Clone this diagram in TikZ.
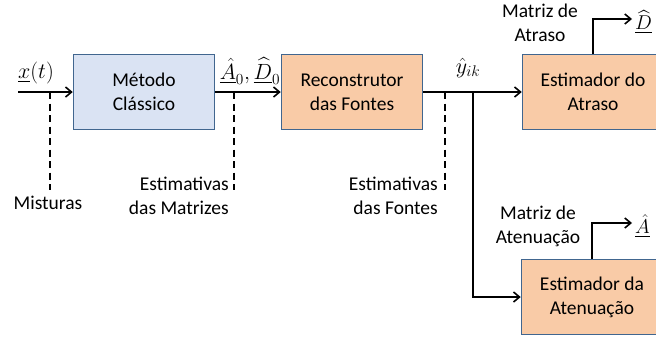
\documentclass[tikz,border=0pt]{standalone}
\usepackage{fix-cm}
\usepackage{amsmath}
\usepackage{fontspec}
\setmainfont{Carlito}
\usepackage{tikz}
\usetikzlibrary{positioning, arrows.meta}

\definecolor{bluefill}{HTML}{DAE3F3}
\definecolor{peachfill}{HTML}{F9CBA7}
\definecolor{boxline}{HTML}{41668F}

\begin{document}
\begin{tikzpicture}[
  x=1pt, y=-1pt,
  font=\fontsize{19.5}{24}\selectfont,
  block/.style={draw=boxline, line width=1.5pt, rectangle, align=center,
    minimum width=141pt, minimum height=75pt, inner sep=2pt},
  note/.style={align=center, inner sep=0pt},
  sig/.style={inner sep=0pt, font=\fontsize{22}{26}\selectfont},
  arr/.style={-{Straight Barb[length=6pt, width=10pt]}, line width=1.6pt},
  tap/.style={line width=1.6pt, dash pattern=on 7pt off 4.5pt},
]
  \clip (0,0) rectangle (656,338);

  % Blocks
  \node[block, fill=bluefill] (classico) at (144,92) {Método\\Clássico};
  \node[block, fill=peachfill] (reconst) at (352,92) {Reconstrutor\\das Fontes};
  \node[block, fill=peachfill] (atraso) at (593,92) {Estimador do\\Atraso};
  \node[block, fill=peachfill] (atenua) at (592,297) {Estimador da\\Atenuação};

  % Points on the signal lines
  \coordinate (entrada) at (18,92);
  \coordinate (tapx) at (50,92);
  \coordinate (tapm) at (234,92);
  \coordinate (tapf) at (445,92);
  \coordinate (ramo) at (473,92);
  \coordinate (canto) at (473,297);
  \coordinate (dsobe) at (593,19);
  \coordinate (dfim) at (632,19);
  \coordinate (asobe) at (592,223);
  \coordinate (afim) at (632,223);

  % Main path
  \draw[arr] (entrada) -- (classico);
  \draw[arr] (classico) -- (reconst);
  \draw[arr] (reconst) -- (atraso);
  \draw[arr] (ramo) -- (canto) -- (atenua);
  \draw[arr] (atraso.north) -- (dsobe) -- (dfim);
  \draw[arr] (atenua.north) -- (asobe) -- (afim);

  % Signal labels
  \node[sig] (xt) at (36,73) {$\underline{x}(t)$};
  \node[sig] (a0d0) at (250,71) {$\underline{\hat{A}}_0,\underline{\widehat{D}}_0$};
  \node[sig] (yik) at (468,68) {$\hat{y}_{ik}$};
  \node[sig, anchor=west, font=\fontsize{20}{24}\selectfont] (dout) at (635,22) {$\underline{\widehat{D}}$};
  \node[sig, anchor=west, font=\fontsize{20}{24}\selectfont] (aout) at (635,226) {$\underline{\hat{A}}$};
  \node[note] (matatr) at (540,23) {Matriz de\\Atraso};
  \node[note] (matate) at (538,226) {Matriz de\\Atenuação};

  % Dashed annotations
  \node[note] (mist) at (48,203) {Misturas};
  \node[note, align=right, anchor=east] (estm) at (229,196) {Estimativas\\das Matrizes};
  \node[note, align=right, anchor=east] (estf) at (438,196) {Estimativas\\das Fontes};
  \coordinate (fimx) at (50,190);
  \coordinate (fimm) at (234,190);
  \coordinate (fimf) at (445,190);
  \draw[tap] (tapx) -- (fimx);
  \draw[tap] (tapm) -- (fimm);
  \draw[tap] (tapf) -- (fimf);
\end{tikzpicture}
\end{document}
